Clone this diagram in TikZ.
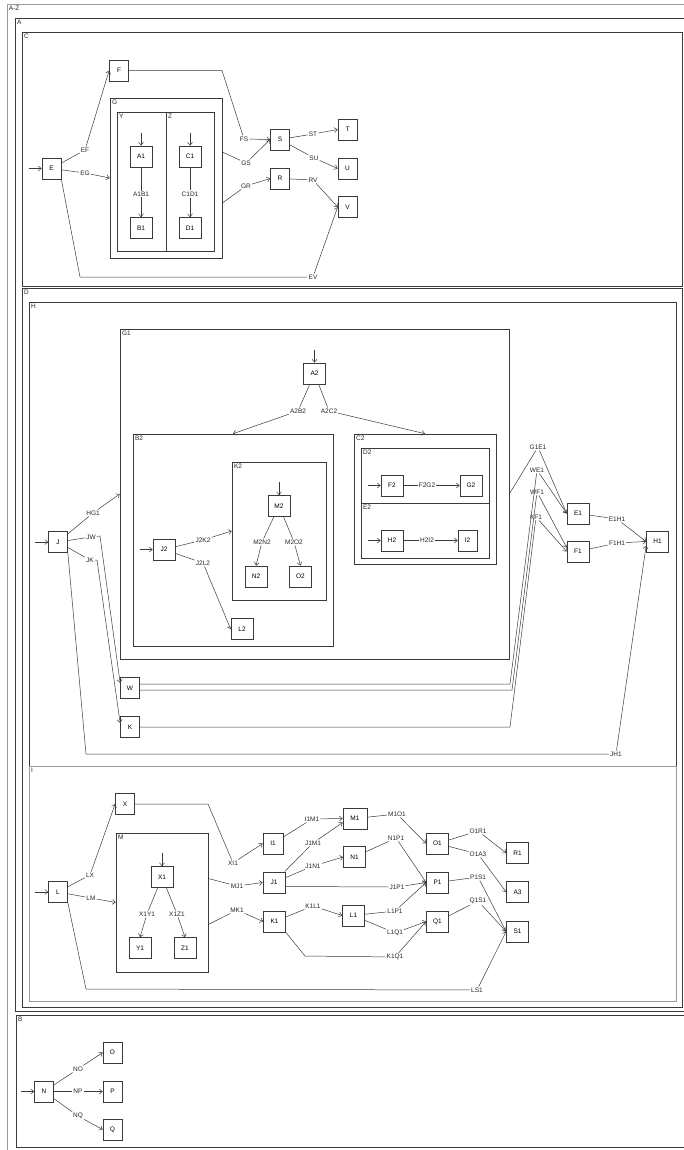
\documentclass[tikz,border=0pt]{standalone}
\usepackage{fontspec}
\setmainfont{Liberation Sans}
\usetikzlibrary{arrows.meta,fit}
\definecolor{ln}{HTML}{3A3A3A}
\definecolor{lgr}{HTML}{9A9A9A}

\begin{document}
\begin{tikzpicture}[x=1pt,y=-1pt,font=\fontsize{6.5}{7}\selectfont,
  box/.style={draw=ln,fill=white,line width=0.7pt,minimum width=19pt,minimum height=21pt,inner sep=0pt},
  wbox/.style={box,minimum width=22pt},
  frame/.style={draw=ln,line width=0.6pt,inner sep=0pt},
  ftitle/.style={anchor=north west,inner sep=2.2pt,text=black!85},
  elab/.style={inner sep=1pt,text=black!85},
  conn/.style={draw=ln,line width=0.5pt,-{Straight Barb[length=3pt,width=5pt]}}]
\useasboundingbox (0,0) rectangle (684,1150);
\clip (0,0) rectangle (684,1150);

% frames
\node[frame,draw=lgr,line width=0.9pt,fit={(7,4) (700,1160)}] (fAZ) {};
\node[frame,fit={(15,18) (700,1011)}] (fA) {};
\node[frame,fit={(22,32) (682,286)}] (fC) {};
\node[frame,fit={(110,98) (222,258)}] (fG) {};
\node[frame,fit={(117,112) (166,251)}] (fY) {};
\node[frame,fit={(166,112) (214,251)}] (fZ) {};
\node[frame,fit={(22,288) (682,1007)}] (fD) {};
\node[frame,fit={(29,302) (676,766)}] (fH) {};
\node[frame,fit={(120,329) (509,659)}] (fG1) {};
\node[frame,fit={(133,434) (333,646)}] (fB2) {};
\node[frame,fit={(232,462) (326,600)}] (fK2) {};
\node[frame,fit={(354,434) (496,564)}] (fC2) {};
\node[frame,fit={(361,448) (489,503)}] (fD2) {};
\node[frame,fit={(361,503) (489,558)}] (fE2) {};
\node[frame,draw=lgr,fit={(29,766) (676,1001)}] (fI) {};
\node[frame,fit={(116,833) (208,972)}] (fM) {};
\node[frame,fit={(16,1015) (700,1147)}] (fB) {};
\node[ftitle] at (fAZ.north west) {A-Z};
\node[ftitle] at (fA.north west) {A};
\node[ftitle] at (fC.north west) {C};
\node[ftitle] at (fG.north west) {G};
\node[ftitle] at (fY.north west) {Y};
\node[ftitle] at (fZ.north west) {Z};
\node[ftitle] at (fD.north west) {D};
\node[ftitle] at (fH.north west) {H};
\node[ftitle] at (fG1.north west) {G1};
\node[ftitle] at (fB2.north west) {B2};
\node[ftitle] at (fK2.north west) {K2};
\node[ftitle] at (fC2.north west) {C2};
\node[ftitle] at (fD2.north west) {D2};
\node[ftitle] at (fE2.north west) {E2};
\node[ftitle] at (fI.north west) {I};
\node[ftitle] at (fM.north west) {M};
\node[ftitle] at (fB.north west) {B};

% C
\node[box] (E) at (51.5,168.5) {E};
\node[box] (F) at (119,70.5) {F};
\node[wbox] (A1) at (141,156.5) {A1};
\node[wbox] (B1) at (141,228) {B1};
\node[wbox] (C1) at (190,156.5) {C1};
\node[wbox] (D1) at (190,228) {D1};
\node[box] (S) at (280,139.5) {S};
\node[box] (R) at (280,178.5) {R};
\node[box] (T) at (347.5,129.5) {T};
\node[box] (U) at (347.5,168.5) {U};
\node[box] (V) at (347.5,207) {V};
\node[elab] (lEF) at (85,150) {EF};
\node[elab] (lEG) at (85,173) {EG};
\node[elab] (lEV) at (313,277) {EV};
\node[elab] (lFS) at (244,139) {FS};
\node[elab] (lGS) at (246,163) {GS};
\node[elab] (lGR) at (246,186) {GR};
\node[elab] (lST) at (313,134) {ST};
\node[elab] (lSU) at (314,158) {SU};
\node[elab] (lRV) at (313,180) {RV};
\node[elab] (lA1B1) at (141,194) {A1B1};
\node[elab] (lC1D1) at (190,194) {C1D1};
\draw[conn] ([xshift=-13pt]E.west) -- (E);
\draw[conn] (E) -- (lEF) -- (F.west);
\draw[conn] (E) -- (lEG) -- (fG.west);
\draw[conn] (E.south east) -- (80,277) -- (lEV) -- (V.west);
\draw[conn] (F.east) -- (222,70.5) -- (lFS) -- (S.west);
\draw[conn] ([yshift=26pt]fG.east) -- (lGS) -- (S.west);
\draw[conn] ([yshift=-25pt]fG.east) -- (lGR) -- (R.west);
\draw[conn] (S) -- (lST) -- (T.west);
\draw[conn] (S) -- (lSU) -- (U.west);
\draw[conn] (R) -- (lRV) -- (V.west);
\draw[conn] ([yshift=13pt]A1.north) -- (A1);
\draw[conn] (A1) -- (lA1B1) -- (B1);
\draw[conn] ([yshift=13pt]C1.north) -- (C1);
\draw[conn] (C1) -- (lC1D1) -- (D1);

% H
\node[box] (J) at (58,542) {J};
\node[box] (W) at (130,688) {W};
\node[box] (K) at (130,727) {K};
\node[wbox] (A2) at (314.5,373.5) {A2};
\node[wbox] (J2) at (164,549.5) {J2};
\node[wbox] (L2) at (242,629) {L2};
\node[wbox] (M2) at (279,506) {M2};
\node[wbox] (N2) at (256,576.5) {N2};
\node[wbox] (O2) at (300.5,576.5) {O2};
\node[wbox] (F2) at (392,485.5) {F2};
\node[wbox] (G2) at (471,485.5) {G2};
\node[wbox] (H2) at (392,540.5) {H2};
\node[box] (I2) at (467.5,540.5) {I2};
\node[wbox] (E1) at (578,513.5) {E1};
\node[wbox] (F1) at (578,551.5) {F1};
\node[wbox] (H1) at (657.5,541.5) {H1};
\node[elab] (lHG1) at (93,513) {HG1};
\node[elab] (lJW) at (91,537) {JW};
\node[elab] (lJK) at (90,560) {JK};
\node[elab] (lJH1) at (616,754) {JH1};
\node[elab] (lA2B2) at (298,411) {A2B2};
\node[elab] (lA2C2) at (329,411) {A2C2};
\node[elab] (lJ2K2) at (203,540) {J2K2};
\node[elab] (lJ2L2) at (203,563) {J2L2};
\node[elab] (lM2N2) at (262,542) {M2N2};
\node[elab] (lM2O2) at (294,542) {M2O2};
\node[elab] (lF2G2) at (427,485.5) {F2G2};
\node[elab] (lH2I2) at (427,540.5) {H2I2};
\node[elab] (lG1E1) at (538,447) {G1E1};
\node[elab] (lWE1) at (537,470) {WE1};
\node[elab] (lWF1) at (537,492) {WF1};
\node[elab] (lKF1) at (536,517) {KF1};
\node[elab] (lE1H1) at (617,519) {E1H1};
\node[elab] (lF1H1) at (617,543) {F1H1};
\draw[conn] ([xshift=-13pt]J.west) -- (J);
\draw[conn] (J) -- (lHG1) -- (fG1.west);
\draw[conn] (J) -- (lJW) -- (100,536) -- ([yshift=5pt]W.west);
\draw[conn] (J) -- (lJK) -- (97,560) -- ([yshift=4pt]K.west);
\draw[conn] (J.south east) -- (86,754) -- (lJH1) -- ([yshift=-4pt]H1.west);
\draw[conn] ([yshift=13pt]A2.north) -- (A2);
\draw[conn] (A2) -- (lA2B2) -- (fB2.north);
\draw[conn] (A2) -- (lA2C2) -- (fC2.north);
\draw[conn] ([xshift=-13pt]J2.west) -- (J2);
\draw[conn] (J2) -- (lJ2K2) -- (fK2.west);
\draw[conn] (J2) -- (lJ2L2) -- (L2.west);
\draw[conn] ([yshift=13pt]M2.north) -- (M2);
\draw[conn] (M2) -- (lM2N2) -- (N2.north);
\draw[conn] (M2) -- (lM2O2) -- (O2.north);
\draw[conn] ([xshift=-13pt]F2.west) -- (F2);
\draw[conn] (F2) -- (lF2G2) -- (G2);
\draw[conn] ([xshift=-13pt]H2.west) -- (H2);
\draw[conn] (H2) -- (lH2I2) -- (I2);
\draw[conn] (fG1.east) -- (lG1E1) -- (E1.west);
\draw[conn] ([yshift=4pt]W.east) -- (510,684) -- (lWE1) -- (E1.west);
\draw[conn] ([yshift=-2pt]W.east) -- (512,690) -- (lWF1) -- ([yshift=4pt]F1.west);
\draw[conn] (K.east) -- (510,727) -- (lKF1) -- (F1.west);
\draw[conn] (E1) -- (lE1H1) -- (H1.west);
\draw[conn] (F1) -- (lF1H1) -- (H1.west);

% I
\node[box] (L) at (58,892) {L};
\node[box] (X) at (125,804) {X};
\node[wbox] (X1) at (162,877) {X1};
\node[wbox] (Y1) at (140,948) {Y1};
\node[wbox] (Z1) at (185,948) {Z1};
\node[box,minimum width=20pt] (I1) at (273,843.5) {I1};
\node[wbox] (J1) at (274,882.5) {J1};
\node[wbox] (K1) at (274.5,921.5) {K1};
\node[wbox,minimum width=24pt] (M1) at (355,818.5) {M1};
\node[wbox] (N1) at (354.5,857) {N1};
\node[wbox] (L1) at (353.5,915.5) {L1};
\node[wbox] (O1) at (437.5,843.5) {O1};
\node[wbox] (P1) at (437.5,882.5) {P1};
\node[wbox] (Q1) at (437.5,921.5) {Q1};
\node[wbox] (R1) at (517.5,853) {R1};
\node[wbox] (A3) at (517.5,892) {A3};
\node[wbox] (S1) at (517.5,931.5) {S1};
\node[elab] (lLX) at (90,875) {LX};
\node[elab] (lLM) at (91,898) {LM};
\node[elab] (lLS1) at (477,990) {LS1};
\node[elab] (lXI1) at (233,863) {XI1};
\node[elab] (lMJ1) at (237,886) {MJ1};
\node[elab] (lMK1) at (237,910) {MK1};
\node[elab] (lX1Y1) at (147,914) {X1Y1};
\node[elab] (lX1Z1) at (177,914) {X1Z1};
\node[elab] (lI1M1) at (312,819) {I1M1};
\node[elab] (lJ1M1) at (313,843) {J1M1};
\node[elab] (lJ1N1) at (313,866) {J1N1};
\node[elab] (lK1L1) at (313,906) {K1L1};
\node[elab] (lJ1P1) at (397,887) {J1P1};
\node[elab] (lK1Q1) at (395,957) {K1Q1};
\node[elab] (lM1O1) at (397,814) {M1O1};
\node[elab] (lN1P1) at (396,838) {N1P1};
\node[elab] (lL1P1) at (395,911) {L1P1};
\node[elab] (lL1Q1) at (395,933) {L1Q1};
\node[elab] (lO1R1) at (478,831) {O1R1};
\node[elab] (lO1A3) at (478,854) {O1A3};
\node[elab] (lP1S1) at (478,877) {P1S1};
\node[elab] (lQ1S1) at (478,901) {Q1S1};
\draw[conn] ([xshift=-13pt]L.west) -- (L);
\draw[conn] (L) -- (lLX) -- (X.west);
\draw[conn] (L) -- (lLM) -- (fM.west);
\draw[conn] (L.south east) -- (86,989) -- (lLS1) -- (S1.west);
\draw[conn] (X.east) -- (208,804) -- (lXI1) -- (I1.west);
\draw[conn] ([yshift=13pt]X1.north) -- (X1);
\draw[conn] (X1) -- (lX1Y1) -- (Y1.north);
\draw[conn] (X1) -- (lX1Z1) -- (Z1.north);
\draw[conn] ([yshift=24pt]fM.east) -- (lMJ1) -- (J1.west);
\draw[conn] ([yshift=-22pt]fM.east) -- (lMK1) -- (K1.west);
\draw[conn] (I1) -- (lI1M1) -- (M1.west);
\draw[conn] (J1) -- (lJ1M1) -- ([yshift=-4pt]M1.west);
\draw[conn] (J1) -- (lJ1N1) -- (N1.west);
\draw[conn] ([yshift=-4pt]J1.east) -- (lJ1P1) -- (P1.west);
\draw[conn] (K1) -- (lK1L1) -- (L1.west);
\draw[conn] (K1.south east) -- (305,956) -- (lK1Q1) -- (Q1.west);
\draw[conn] (M1) -- (lM1O1) -- (O1.west);
\draw[conn] (N1) -- (lN1P1) -- (P1.west);
\draw[conn] (L1) -- (lL1P1) -- (P1.west);
\draw[conn] (L1) -- (lL1Q1) -- (Q1.west);
\draw[conn] (O1) -- (lO1R1) -- (R1.west);
\draw[conn] (O1) -- (lO1A3) -- (A3.west);
\draw[conn] (P1) -- (lP1S1) -- (S1.west);
\draw[conn] (Q1) -- (lQ1S1) -- (S1.west);

% B
\node[box] (N) at (44,1091.5) {N};
\node[box] (O) at (112.5,1052.5) {O};
\node[box] (P) at (112.5,1091.5) {P};
\node[box] (Q) at (112.5,1129.5) {Q};
\node[elab] (lNO) at (78,1069) {NO};
\node[elab] (lNP) at (78,1091.5) {NP};
\node[elab] (lNQ) at (78,1116) {NQ};
\draw[conn] ([xshift=-13pt]N.west) -- (N);
\draw[conn] (N) -- (lNO) -- (O.west);
\draw[conn] (N) -- (lNP) -- (P.west);
\draw[conn] (N) -- (lNQ) -- (Q.west);
\end{tikzpicture}
\end{document}
